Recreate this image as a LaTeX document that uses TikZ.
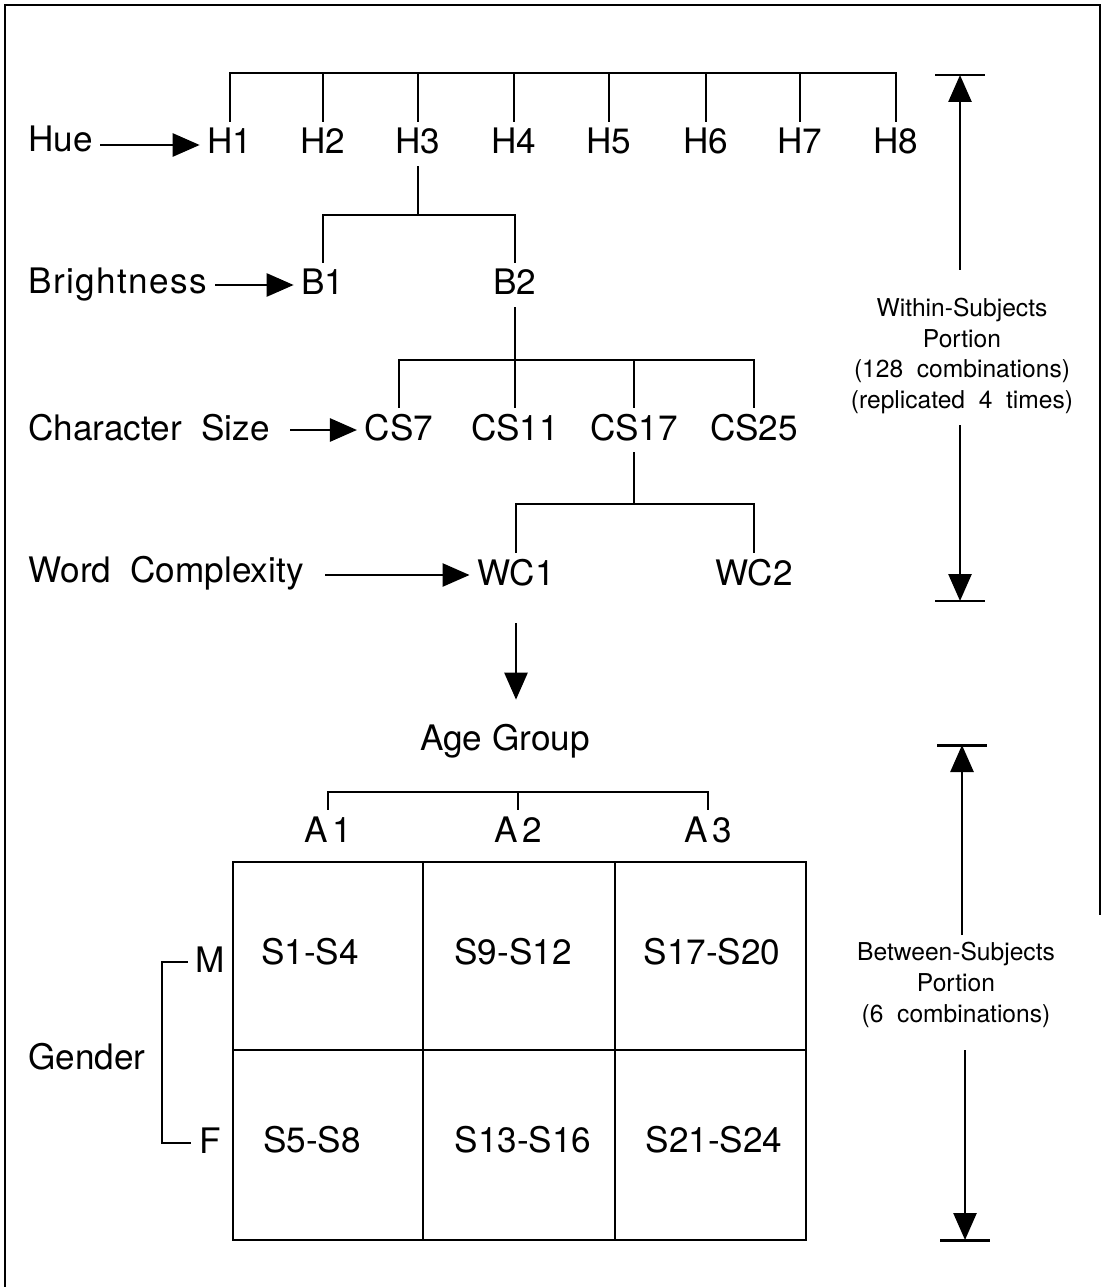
\documentclass[tikz,border=0pt]{standalone}
\usepackage{fontspec}
\setmainfont{TeX Gyre Heros}
\usetikzlibrary{arrows.meta}
\begin{document}
\begin{tikzpicture}[x=0.02cm, y=-0.02cm,
  lw/.style={line width=1.5pt},
  arr/.style={lw, -{Triangle[length=0.54cm,width=0.46cm]}},
  big/.style={font=\fontsize{20}{24}\selectfont},
  lab/.style={big, inner xsep=0.15cm, inner ysep=0.14cm, text height=0.5cm, text depth=0.1cm, anchor=base},
  side/.style={big, inner sep=0, anchor=base west},
  note/.style={font=\fontsize{14}{17.6}\selectfont, align=center, inner sep=0},
  cell/.style={big, anchor=base, inner sep=0},
  dimbar/.style={line width=1.7pt}
]
\useasboundingbox (0,0) rectangle (1103,1287);
% frame
\draw[line width=1.6pt] (5,1287) -- (5,5) -- (1100,5) -- (1100,915);

% ---------- Hue ----------
\node[side] (hue) at (28,152) {Hue};
\foreach \i/\x in {1/230,2/323,3/418,4/514,5/609,6/706,7/800,8/896}
  \node[lab] (h\i) at (\x,154) {H\i};
\coordinate (hueS) at (100,145);
\draw[arr] (hueS) -- (hueS -| h1.west);
\coordinate (hb) at (0,73);
\draw[lw] (h1.north) -- (h1.north |- hb) -- (h8.north |- hb) -- (h8.north);
\foreach \n in {h2,h3,h4,h5,h6,h7} \draw[lw] (\n.north) -- (\n.north |- hb);

% ---------- Brightness ----------
\node[side] (bright) at (28,294) {\addfontfeatures{LetterSpace=4}Brightness};
\node[lab] (b1) at (323,295) {B1};
\node[lab] (b2) at (515,295) {B2};
\coordinate (brS) at (215,285);
\draw[arr] (brS) -- (brS -| b1.west);
\coordinate (bb) at (0,215);
\draw[lw] (h3.south) -- (h3.south |- bb);
\draw[lw] (b1.north) -- (b1.north |- bb) -- (b2.north |- bb) -- (b2.north);

% ---------- Character Size ----------
\node[side] (csize) at (28,440) {Character\hspace{0.55em}Size};
\node[lab] (cs7) at (399,440) {CS7};
\node[lab] (cs11) at (515,440) {CS11};
\node[lab] (cs17) at (634,440) {CS17};
\node[lab] (cs25) at (754,440) {CS25};
\coordinate (csS) at (290,430);
\draw[arr] (csS) -- (csS -| cs7.west);
\coordinate (cb) at (0,360);
\draw[lw] (b2.south) -- (b2.south |- cb);
\draw[lw] (cs7.north) -- (cs7.north |- cb) -- (cs25.north |- cb) -- (cs25.north);
\foreach \n in {cs11,cs17} \draw[lw] (\n.north) -- (\n.north |- cb);

% ---------- Word Complexity ----------
\node[side] (wcomp) at (28,582) {Word\hspace{0.55em}Complexity};
\node[lab] (wc1) at (516,585) {WC1};
\node[lab] (wc2) at (754,585) {WC2};
\coordinate (wcS) at (325,575);
\draw[arr] (wcS) -- (wcS -| wc1.west);
\coordinate (wcb) at (0,504);
\draw[lw] (cs17.south) -- (cs17.south |- wcb);
\draw[lw] (wc1.north) -- (wc1.north |- wcb) -- (wc2.north |- wcb) -- (wc2.north);

% ---------- Age Group ----------
\node[lab] (age) at (505,750) {Age Group};
\draw[arr, shorten <=0.52cm, shorten >=0.36cm] (wc1.south) -- (wc1.south |- age.north);
\node[lab] (a1) at (328,842) {A\kern0.12em 1};
\node[lab] (a2) at (518,842) {A\kern0.12em 2};
\node[lab] (a3) at (708,842) {A\kern0.12em 3};
\coordinate (ab) at (0,792);
\draw[lw] (a1.north) -- (a1.north |- ab) -- (a3.north |- ab) -- (a3.north);
\draw[lw] (a2.north) -- (a2.north |- ab);

% ---------- grid ----------
\draw[lw] (233,862) rectangle (806,1240);
\draw[lw] (233,1050) -- (806,1050);
\draw[lw] (423,862) -- (423,1240);
\draw[lw] (615,862) -- (615,1240);
\node[cell] (s1) at (310,964) {S1-S4};
\node[cell] (s9) at (513,964) {S9-S12};
\node[cell] (s17) at (712,964) {S17-S20};
\node[cell] (s5) at (312,1152) {S5-S8};
\node[cell] (s13) at (523,1152) {S13-S16};
\node[cell] (s21) at (714,1152) {S21-S24};

% ---------- Gender ----------
\node[side] (gender) at (28,1069) {Gender};
\node[lab] (m) at (210,972) {M};
\node[lab] (f) at (210,1153) {F};
\coordinate (gb) at (162,1050);
\draw[lw] (m.west) -| (gb) |- (f.west);

% ---------- right side ----------
\node[note] (wtext) at (962,356) {Within-Subjects\\Portion\\(128\ \ combinations)\\(replicated\ \ 4\ \ times)};
\node[note] (btext) at (956,985) {Between-Subjects\\Portion\\(6\ \ combinations)};

\coordinate (wTop) at (960,75);
\coordinate (wTopS) at (960,270);
\coordinate (wBot) at (960,601);
\coordinate (wBotS) at (960,425);
\coordinate (bTop) at (962,745);
\coordinate (bTopS) at (962,935);
\coordinate (bBot) at (965,1240);
\coordinate (bBotS) at (965,1050);
\foreach \c in {wTop,wBot,bTop,bBot}
  \draw[dimbar] ([xshift=-0.5cm]\c) -- ([xshift=0.5cm]\c);
\draw[arr] (wTopS) -- (wTop);
\draw[arr] (wBotS) -- (wBot);
\draw[arr] (bTopS) -- (bTop);
\draw[arr] (bBotS) -- (bBot);
\end{tikzpicture}
\end{document}
